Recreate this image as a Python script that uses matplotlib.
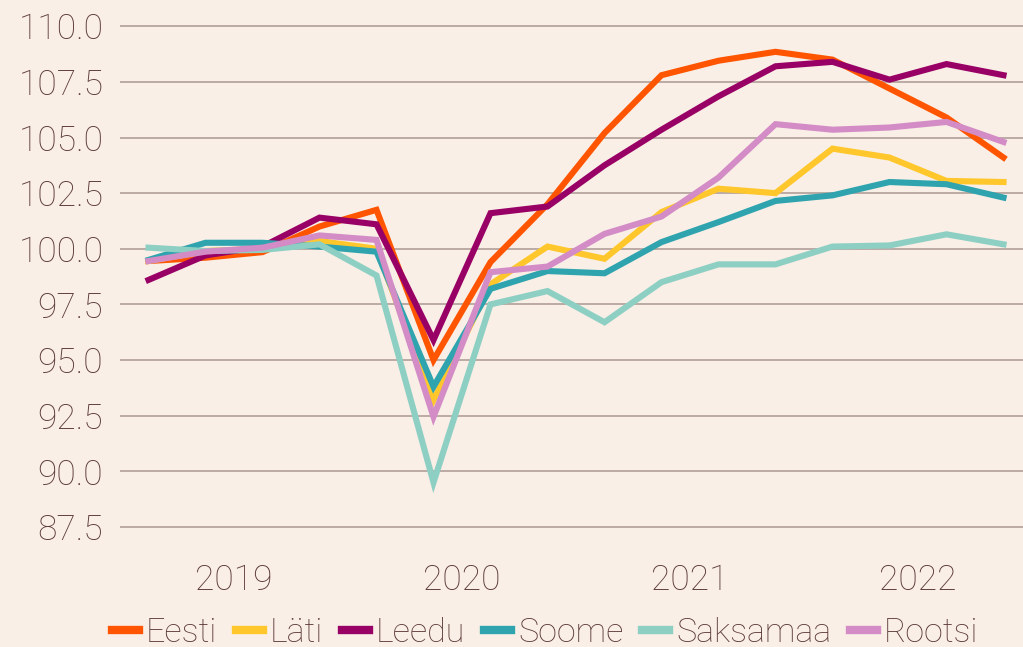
import matplotlib.pyplot as plt
import numpy as np

# quarterly index, 2019Q1 .. 2022Q4
quarters = [f"{y}Q{q}" for y in range(2019, 2023) for q in range(1, 5)]
years = ["2019", "2020", "2021", "2022"]

eesti = [99.45, 99.6, 99.85, 101.0, 101.75, 95.0, 99.4, 102.0, 105.2, 107.8, 108.45, 108.85, 108.5, 107.2, 105.9, 104.1]
lati = [99.45, 99.9, 100.0, 100.35, 100.0, 93.2, 98.4, 100.1, 99.55, 101.65, 102.7, 102.5, 104.5, 104.1, 103.05, 103.0]
leedu = [98.6, 99.7, 100.1, 101.4, 101.1, 95.9, 101.6, 101.9, 103.75, 105.35, 106.85, 108.2, 108.4, 107.6, 108.3, 107.8]
soome = [99.5, 100.27, 100.27, 100.1, 99.87, 93.8, 98.2, 99.0, 98.9, 100.3, 101.2, 102.15, 102.4, 103.0, 102.9, 102.3]
saksamaa = [100.05, 99.9, 99.95, 100.2, 98.8, 89.5, 97.5, 98.1, 96.7, 98.5, 99.3, 99.3, 100.1, 100.15, 100.65, 100.2]
rootsi = [99.45, 99.87, 100.05, 100.6, 100.4, 92.45, 98.95, 99.2, 100.67, 101.45, 103.2, 105.6, 105.35, 105.45, 105.7, 104.8]

series = [
    ("Eesti", eesti, "#ff5500"),
    ("Läti", lati, "#ffc72c"),
    ("Leedu", leedu, "#990066"),
    ("Soome", soome, "#2fa4ae"),
    ("Saksamaa", saksamaa, "#8ecfc4"),
    ("Rootsi", rootsi, "#d38cc6"),
]

bg = "#f9efe6"
txt = "#5c3a38"
plt.rcParams['font.family'] = ['Roboto', 'DejaVu Sans']

fig = plt.figure(figsize=(10.23, 6.47), dpi=100, facecolor=bg)
ax = fig.add_axes([120 / 1023, 1 - 545 / 647, 903 / 1023, 525 / 647])
ax.set_facecolor(bg)

x = np.arange(len(quarters))
for name, vals, col in series:
    ax.plot(x, vals, color=col, lw=4.4, label=name, solid_joinstyle='miter')

ax.set_xlim(-0.5, 15.342)
ax.set_ylim(86.69, 110.28)
ax.set_yticks(np.arange(87.5, 110.01, 2.5))
ax.set_yticklabels([f"{v:.1f}" for v in np.arange(87.5, 110.01, 2.5)])
ax.set_xticks([1.5, 5.5, 9.5, 13.5])
ax.set_xticklabels(years)
ax.grid(axis='y', color="#bcaaa4", lw=1.4)
ax.set_axisbelow(True)
for s in ax.spines.values():
    s.set_visible(False)
ax.tick_params(axis='y', length=0, pad=12, labelsize=25.5, labelcolor=txt)
ax.tick_params(axis='x', length=0, pad=13, labelsize=25.5, labelcolor=txt)
for lab in ax.get_xticklabels() + ax.get_yticklabels():
    lab.set_fontweight('light')

leg = fig.legend(loc='center', bbox_to_anchor=(0.533, 0.022), ncol=6, frameon=False,
                 fontsize=24.5, handlelength=0.8, handletextpad=0.2, columnspacing=0.55,
                 labelcolor=txt)
for t in leg.get_texts():
    t.set_fontweight('light')
for h in leg.get_lines():
    h.set_linewidth(6)

fig.savefig("out.png", dpi=100, facecolor=bg)
